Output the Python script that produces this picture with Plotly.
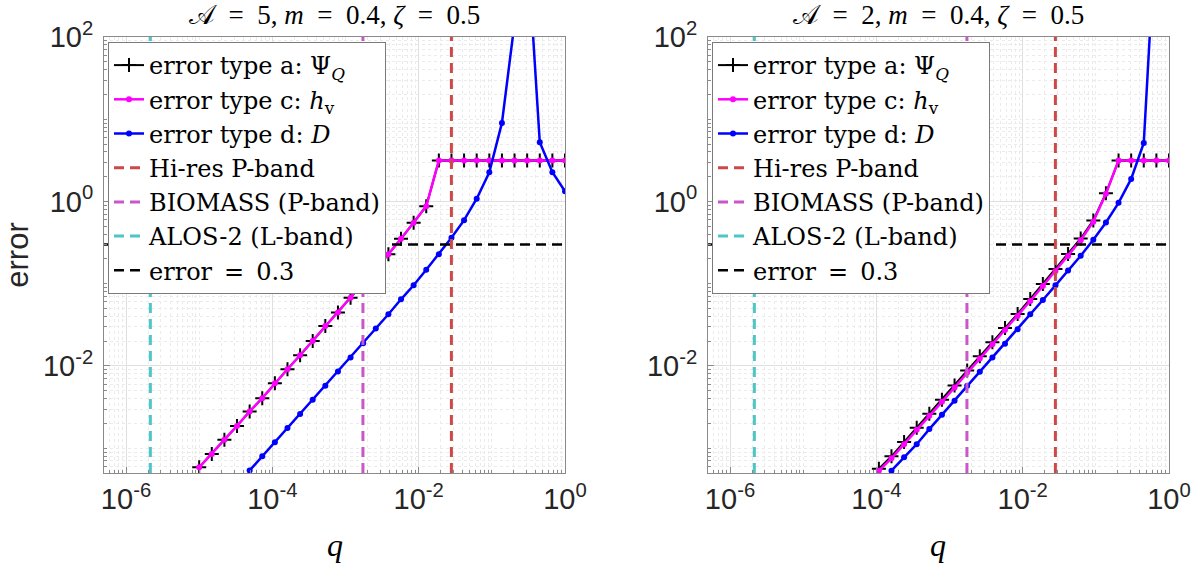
import math
import plotly.graph_objects as go

# ---------------- data ----------------
q = [1.000e-5, 1.487e-5, 2.212e-5, 3.290e-5, 4.894e-5, 7.279e-5, 1.083e-4, 1.610e-4,
     2.395e-4, 3.562e-4, 5.298e-4, 7.881e-4, 1.172e-3, 1.743e-3, 2.593e-3, 3.857e-3,
     5.736e-3, 8.532e-3, 1.269e-2, 1.887e-2, 2.807e-2, 4.175e-2, 6.210e-2, 9.237e-2,
     0.1374, 0.2043, 0.3039, 0.4520, 0.6723, 1.0]

# left panel (A = 5)
L_a = [5.86e-4, 8.51e-4, 1.27e-3, 1.87e-3, 2.80e-3, 4.06e-3, 6.18e-3, 9.14e-3, 1.35e-2,
       2.02e-2, 3.07e-2, 4.46e-2, 6.78e-2, 0.102, 0.151, 0.229, 0.352, 0.552, 0.877,
       3.14, 3.14, 3.14, 3.14, 3.14, 3.14, 3.14, 3.14, 3.14, 3.14, 3.14]
L_c = list(L_a)
L_d = [None, None, None, None,
       5.37e-4, 7.98e-4, 1.18e-3, 1.76e-3, 2.60e-3, 3.88e-3, 5.74e-3, 8.57e-3, 1.27e-2,
       1.89e-2, 2.85e-2, 4.26e-2, 6.47e-2, 9.57e-2, 0.148, 0.228, 0.363, 0.593, 1.08,
       2.27, 9.02, 148.0, 1445.0, 5.25, 2.27, 1.33]

# right panel (A = 2)
R_a = [None] * 6 + [5.65e-4, 7.98e-4, 1.19e-3, 1.78e-3, 2.63e-3, 3.89e-3, 5.81e-3, 8.83e-3,
       1.31e-2, 1.95e-2, 2.90e-2, 4.30e-2, 6.53e-2, 9.93e-2, 0.151, 0.230, 0.355, 0.589,
       1.26, 3.14, 3.14, 3.14, 3.14, 3.14]
R_c = [None] * 6 + [5.33e-4, 7.53e-4, 1.12e-3, 1.68e-3, 2.48e-3, 3.67e-3, 5.48e-3, 8.34e-3,
       1.23e-2, 1.84e-2, 2.74e-2, 4.06e-2, 6.17e-2, 9.38e-2, 0.143, 0.217, 0.339, 0.569,
       1.24, 3.14, 3.14, 3.14, 3.14, 3.14]
R_d = [None] * 7 + [5.33e-4, 7.76e-4, 1.12e-3, 1.71e-3, 2.55e-3, 3.78e-3, 5.74e-3, 8.49e-3,
       1.27e-2, 1.87e-2, 2.80e-2, 4.26e-2, 6.35e-2, 9.57e-2, 0.145, 0.219, 0.343, 0.556,
       0.964, 1.88, 5.15, 2880.0, None]

band_names = ["Hi-res P-band", "BIOMASS (P-band)", "ALOS-2 (L-band)"]
band_q = [0.028, 1.73e-3, 2.15e-6]
band_colors = ["#CD4848", "#C957C9", "#4CC6C6"]
err_threshold = 0.3

EQ = "\u2002=\u2002"
titles = ["\U0001D49C" + EQ + "5, <i>m</i>" + EQ + "0.4, <i>ζ</i>" + EQ + "0.5",
          "\U0001D49C" + EQ + "2, <i>m</i>" + EQ + "0.4, <i>ζ</i>" + EQ + "0.5"]
names = ["error type a: Ψ<sub><i>Q</i></sub>",
         "error type c: <i>h</i><sub>v</sub>",
         "error type d: <i>D</i>",
         "error" + EQ + "0.3"]

x_tickvals = [1e-6, 1e-4, 1e-2, 1.0]
x_ticktext = ["10<sup>-6</sup>", "10<sup>-4</sup>", "10<sup>-2</sup>", "10<sup>0</sup>"]
y_tickvals = [1e-2, 1.0, 1e2]
y_ticktext = ["10<sup>-2</sup>", "10<sup>0</sup>", "10<sup>2</sup>"]

xlim = [5e-7, 1.0]
ylim = [5e-4, 100.0]

# ---------------- figure ----------------
W, H = 1200, 571
fig = go.Figure()

panels = [(L_a, L_c, L_d), (R_a, R_c, R_d)]
for i, (ea, ec, ed) in enumerate(panels):
    xa = "x" if i == 0 else "x2"
    ya = "y" if i == 0 else "y2"
    lg = "legend" if i == 0 else "legend2"
    fig.add_trace(go.Scatter(x=q, y=ea, xaxis=xa, yaxis=ya, legend=lg, name=names[0],
                             mode="lines+markers", line=dict(color="black", width=2),
                             marker=dict(symbol="cross-thin", size=10,
                                         line=dict(color="black", width=2))))
    fig.add_trace(go.Scatter(x=q, y=ec, xaxis=xa, yaxis=ya, legend=lg, name=names[1],
                             mode="lines+markers", line=dict(color="#FF00FF", width=2.5),
                             marker=dict(symbol="circle", size=6, color="#FF00FF")))
    fig.add_trace(go.Scatter(x=q, y=ed, xaxis=xa, yaxis=ya, legend=lg, name=names[2],
                             mode="lines+markers", line=dict(color="#0000FF", width=2.5),
                             marker=dict(symbol="circle", size=6, color="#0000FF")))
    for bn, bq, bc in zip(band_names, band_q, band_colors):
        fig.add_trace(go.Scatter(x=[bq, bq], y=ylim, xaxis=xa, yaxis=ya, legend=lg,
                                 name=bn, mode="lines",
                                 line=dict(color=bc, width=3, dash="10px,6px")))
    fig.add_trace(go.Scatter(x=xlim, y=[err_threshold, err_threshold], xaxis=xa, yaxis=ya,
                             legend=lg, name=names[3], mode="lines",
                             line=dict(color="black", width=2.5, dash="10px,6px")))

xdoms = [[104 / W, 565 / W], [708 / W, 1169 / W]]
ydom = [1 - 473 / H, 1 - 37 / H]

tickfont = dict(family="Liberation Sans, Arial, sans-serif", size=29, color="#262626")
common = dict(type="log", showline=True, mirror=True, linecolor="#8a8a8a", linewidth=1,
              ticks="inside", ticklen=6, tickcolor="#8a8a8a", tickmode="array",
              showgrid=True, gridcolor="#e0e0e0", gridwidth=1, automargin=False,
              zeroline=False, tickfont=tickfont,
              minor=dict(dtick="D1", ticks="inside", ticklen=3, tickcolor="#8a8a8a",
                         showgrid=True, gridcolor="#ebebeb", griddash="dot"))

layout = dict(width=W, height=H, margin=dict(l=0, r=0, t=0, b=0, autoexpand=False),
              paper_bgcolor="white", plot_bgcolor="white", showlegend=True)
for i in range(2):
    sx = "" if i == 0 else "2"
    layout["xaxis" + sx] = dict(common, domain=xdoms[i],
                                range=[math.log10(xlim[0]), math.log10(xlim[1])],
                                tickvals=x_tickvals, ticktext=x_ticktext,
                                anchor="y" + sx)
    layout["yaxis" + sx] = dict(common, domain=ydom,
                                range=[math.log10(ylim[0]), math.log10(ylim[1])],
                                tickvals=y_tickvals, ticktext=y_ticktext,
                                anchor="x" + sx, ticklabelstandoff=4)
layout["yaxis"]["title"] = dict(text="error", standoff=6,
                                font=dict(family="Liberation Sans, Arial, sans-serif",
                                          size=31, color="#262626"))

legfont = dict(family="DejaVu Serif, serif", size=24, color="black")
for i, key in enumerate(["legend", "legend2"]):
    layout[key] = dict(x=(108 if i == 0 else 712) / W, y=1 - 42 / H, xref="paper",
                       yref="paper", xanchor="left", yanchor="top", bgcolor="white",
                       bordercolor="#7a7a7a", borderwidth=1, font=legfont,
                       tracegroupgap=0, itemwidth=30)

fig.update_layout(**layout)

serif = "Liberation Serif, Times New Roman, serif"
for i in range(2):
    cx = (xdoms[i][0] + xdoms[i][1]) / 2
    fig.add_annotation(x=cx, y=1 - 15 / H, xref="paper", yref="paper", text=titles[i],
                       xanchor="center", yanchor="middle", showarrow=False,
                       font=dict(family=serif, size=27, color="black"))
    fig.add_annotation(x=cx, y=1 - 545 / H, xref="paper", yref="paper", text="<i>q</i>",
                       xanchor="center", yanchor="middle", showarrow=False,
                       font=dict(family=serif, size=32, color="black"))

fig.write_html("out.html", config={"displayModeBar": False},
               post_script="document.body.style.margin='0';document.body.style.padding='0';")
